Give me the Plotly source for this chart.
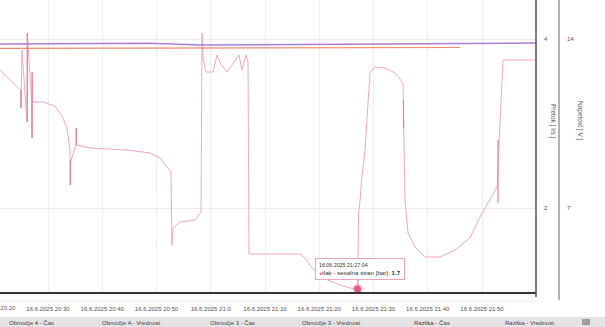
import plotly.graph_objects as go

DAY = "2025-06-16 "

# --- data ---
pressure_time = ["20:21:09","20:24:56","20:25:01","20:25:12","20:26:08","20:26:11","20:26:58","20:27:03","20:27:09","20:27:14",
                 "20:29:05","20:31:17","20:32:35","20:33:30","20:34:03","20:34:07","20:34:10","20:35:10","20:35:12","20:35:15",
                 "20:37:45","20:44:34","20:48:48","20:50:39","20:52:40","20:52:51","20:53:03","20:54:20","20:57:06","20:58:12",
                 "20:58:23","20:58:34","20:59:07","21:00:25","21:01:09","21:01:42","21:03:00","21:04:06","21:05:12","21:05:46",
                 "21:06:30","21:06:52","21:07:03","21:16:27","21:17:22","21:18:40","21:21:04","21:23:50","21:25:40","21:27:04",
                 "21:27:14","21:27:31","21:27:53","21:28:26","21:28:59","21:29:21","21:30:17","21:32:07","21:33:58","21:35:26",
                 "21:35:48","21:36:22","21:37:39","21:39:30","21:42:16","21:45:01","21:47:47","21:49:38","21:52:46","21:53:52",
                 "21:59:57"]
pressure_bar = [3.89,3.69,3.51,4.09,3.37,4.26,3.59,3.21,3.87,3.57,
                3.57,3.53,3.43,3.31,3.09,2.74,2.97,3.14,3.31,3.14,
                3.11,3.09,3.06,3.01,2.87,2.14,2.31,2.37,2.39,2.47,
                4.26,4.01,3.87,3.87,4.04,3.96,3.87,3.96,4.04,3.89,
                4.04,3.97,2.05,2.05,2.01,1.91,1.80,1.74,1.71,1.70,
                2.44,2.59,2.84,3.09,3.59,3.87,3.92,3.91,3.86,3.76,
                2.59,2.26,2.12,2.02,2.02,2.09,2.21,2.42,2.72,3.99,
                3.99]

spike_time = ["20:25:01","20:25:01",None,"20:26:11","20:26:11",None,"20:27:03","20:27:03",None,
              "20:34:07","20:34:07",None,"20:35:12","20:35:12",None,"21:35:32","21:35:32",None,
              "21:52:57","21:52:57"]
spike_bar = [3.69,3.51,None,4.26,3.37,None,3.87,3.21,None,
             2.99,2.74,None,3.31,3.14,None,3.59,3.31,None,
             3.19,2.56]

napetost_time = ["20:21:09","20:39:35","20:48:48","20:58:01","21:16:27","21:34:53","21:45:57","21:59:57"]
napetost_v = [13.79,13.82,13.82,13.75,13.77,13.81,13.83,13.83]

pretok_time = ["20:21:09","21:00:00","21:45:57"]
pretok_ls = [3.89,3.895,3.90]

hover_time = "21:27:04"
hover_value = 1.7

tick_times = ["20:30","20:40","20:50","21:00","21:10","21:20","21:30","21:40","21:50"]
tick_labels = ["16.6.2025 20:30","16.6.2025 20:40","16.6.2025 20:50","16.6.2025 21:0","16.6.2025 21:10",
               "16.6.2025 21:20","16.6.2025 21:30","16.6.2025 21:40","16.6.2025 21:50"]
cut_tick_label = "16.6.2025 20:20"

table_headers = ["Območje 4 - Čas","Območje 4 - Vrednost","Območje 3 - Čas","Območje 3 - Vrednost",
                 "Razlika - Čas","Razlika - Vrednost"]

def ts(lst):
    return [DAY + t if t else None for t in lst]

W, H = 605, 327
PLOT_H = 292
FONT = "Arial, Liberation Sans, sans-serif"

def px_x(p):
    return p / W

def px_y(p):
    return (PLOT_H - p) / PLOT_H

fig = go.Figure()

fig.add_trace(go.Scatter(x=ts(pressure_time), y=pressure_bar, mode="lines", yaxis="y",
                         line=dict(color="#f1a8c1", width=1), name="tlak - sesalna stran [bar]",
                         showlegend=False, hoverinfo="skip"))
fig.add_trace(go.Scatter(x=ts(spike_time), y=spike_bar, mode="lines", yaxis="y",
                         line=dict(color="#e57fa4", width=1.2), showlegend=False, hoverinfo="skip",
                         connectgaps=False))
fig.add_trace(go.Scatter(x=ts(pretok_time), y=pretok_ls, mode="lines", yaxis="y2",
                         line=dict(color="#f28a72", width=1.2), name="Pretok", showlegend=False))
fig.add_trace(go.Scatter(x=ts(napetost_time), y=napetost_v, mode="lines", yaxis="y3",
                         line=dict(color="#b07cd8", width=1.5), name="Napetost", showlegend=False))
fig.add_trace(go.Scatter(x=ts([hover_time]), y=[hover_value], mode="markers", yaxis="y",
                         marker=dict(size=7, color="#e25a8b", line=dict(color="rgba(226,90,139,0.35)", width=3)),
                         showlegend=False, hoverinfo="skip"))

annotations = []
# cut-off first tick label (centre lies left of the plot)
annotations.append(dict(x=px_x(-6), y=px_y(308), xref="paper", yref="paper",
                        text=cut_tick_label, showarrow=False, font=dict(size=6, color="#555", family=FONT),
                        xanchor="center", yanchor="middle"))
# axis titles
annotations.append(dict(x=px_x(553), y=px_y(121), xref="paper", yref="paper", text="Pretok [ l/s ]",
                        textangle=90, showarrow=False, xanchor="center", yanchor="middle",
                        font=dict(size=6.5, color="#555", family=FONT)))
annotations.append(dict(x=px_x(580), y=px_y(121), xref="paper", yref="paper", text="Napetost [ V ]",
                        textangle=90, showarrow=False, xanchor="center", yanchor="middle",
                        font=dict(size=6.5, color="#555", family=FONT)))
# tooltip
annotations.append(dict(x=DAY + hover_time, xref="x", y=hover_value, yref="y",
                        text="<span style='font-size:5.3px'>16.06.2025 21:27:04</span><br>"
                             "<span style='color:#e25a8b;font-size:5px'>●</span>tlak - sesalna stran [bar]: <b>1.7</b>",
                        showarrow=True, arrowhead=0, arrowwidth=1, arrowcolor="#eea6bd", ax=2, ay=-20,
                        standoff=4, align="left", bgcolor="white", bordercolor="#eea6bd", borderwidth=1,
                        borderpad=3, font=dict(size=6.2, color="#333", family=FONT)))
# table header texts
table_x = [7, 100, 208, 300, 412, 503]
for tx, txt in zip(table_x, table_headers):
    annotations.append(dict(x=px_x(tx), y=px_y(318), xref="paper", yref="paper", text=txt,
                            showarrow=False, xanchor="left", yanchor="top",
                            font=dict(size=6, color="#444", family=FONT)))

shapes = []
shapes.append(dict(type="rect", xref="paper", yref="paper", x0=0, x1=1, y0=px_y(317), y1=px_y(335),
                   fillcolor="#e4e4e4", line=dict(width=0), layer="below"))
shapes.append(dict(type="line", xref="paper", yref="paper", x0=px_x(536), x1=px_x(536), y0=1, y1=px_y(297),
                   line=dict(color="#555", width=1.5)))
shapes.append(dict(type="line", xref="paper", yref="paper", x0=px_x(559), x1=px_x(559), y0=1, y1=px_y(300),
                   line=dict(color="#999", width=1.5)))
shapes.append(dict(type="line", xref="paper", yref="paper", x0=0, x1=px_x(536), y0=px_y(301), y1=px_y(301),
                   line=dict(color="#ececec", width=1)))
for yy in (320, 322, 324):
    shapes.append(dict(type="line", xref="paper", yref="paper", x0=px_x(582), x1=px_x(590),
                       y0=px_y(yy), y1=px_y(yy), line=dict(color="#555", width=1)))

fig.update_layout(
    template="none",
    width=W, height=H,
    margin=dict(l=0, r=0, t=0, b=H - PLOT_H, pad=0),
    paper_bgcolor="white", plot_bgcolor="white",
    showlegend=False,
    font=dict(family=FONT, size=6, color="#555"),
    xaxis=dict(domain=[0, px_x(536)], range=[DAY + "20:21:09", DAY + "21:59:57"], type="date",
               tickvals=[DAY + t + ":00" for t in tick_times], ticktext=tick_labels,
               tickfont=dict(size=6, color="#555", family=FONT), ticks="", ticklabelstandoff=10,
               showgrid=True, gridcolor="#efefef", gridwidth=1,
               showline=True, linecolor="#333", linewidth=2, zeroline=False, automargin=False,
               anchor="y"),
    yaxis=dict(range=[1.67, 4.59], visible=False, showgrid=False, zeroline=False, automargin=False),
    yaxis2=dict(range=[1.006, 4.462], overlaying="y", side="right", anchor="free", position=px_x(536),
                tickvals=[2, 4], ticktext=["2", "4"], tickfont=dict(size=6, color="#555", family=FONT),
                ticks="", ticklabelstandoff=7, showgrid=True, gridcolor="#ececec", gridwidth=1,
                showline=False, zeroline=False, automargin=False),
    yaxis3=dict(range=[3.52, 15.615], overlaying="y", side="right", anchor="free", position=px_x(559),
                tickvals=[7, 14], ticktext=["7", "14"], tickfont=dict(size=6, color="#555", family=FONT),
                ticks="", ticklabelstandoff=7, showgrid=False,
                showline=False, zeroline=False, automargin=False),
    annotations=annotations,
    shapes=shapes,
)

fig.write_html("out.html")
